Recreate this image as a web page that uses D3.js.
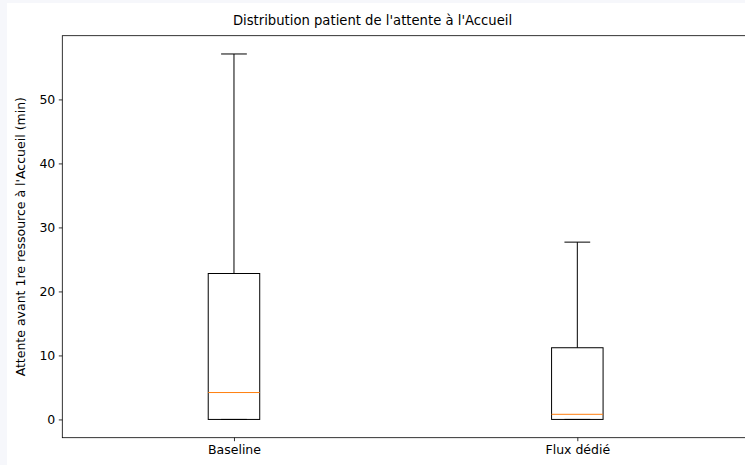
<!DOCTYPE html>
<html><head><meta charset="utf-8">
<script src="https://cdn.jsdelivr.net/npm/d3@7"></script>
<style>
html,body{margin:0;padding:0;background:#f6f7fb;overflow:hidden;}
svg{position:absolute;left:7px;top:3px;background:#fff;}
text{font-family:"DejaVu Sans",sans-serif;fill:#000;}
</style></head><body>
<script>
const categories = ["Baseline", "Flux dédié"];
const whiskerLow = [0, 0];
const q1 = [0, 0];
const median = [4.2, 0.8];
const q3 = [22.8, 11.2];
const whiskerHigh = [57.1, 27.7];
const yTicks = [0, 10, 20, 30, 40, 50];
const title = "Distribution patient de l'attente à l'Accueil";
const yLabel = "Attente avant 1re ressource à l'Accueil (min)";

(function () {
const W = 760, H = 470;
const ox = 7, oy = 3;
const pL = 62.3 - ox, pT = 35.7 - oy, pB = 437.7 - oy, pR = 749 - ox;
const tickFont = 12.5, titleFont = 13.2;

const svg = d3.select("body").append("svg").attr("width", W).attr("height", H);

const pos = categories.map((c, i) => i + 1);
const x = d3.scaleLinear().domain([0.5, 2.5]).range([pL, pR]);
const yMin = d3.min(whiskerLow), yMax = d3.max(whiskerHigh);
const m = (yMax - yMin) * 0.05;
const y = d3.scaleLinear().domain([yMin - m, yMax + m]).range([pB, pT]);

const bw = 0.15;
const g = svg.append("g");
categories.forEach((c, i) => {
  const p = pos[i];
  g.append("line").attr("x1", x(p)).attr("x2", x(p)).attr("y1", y(q3[i])).attr("y2", y(whiskerHigh[i])).attr("stroke", "#000").attr("stroke-width", 1);
  g.append("line").attr("x1", x(p)).attr("x2", x(p)).attr("y1", y(q1[i])).attr("y2", y(whiskerLow[i])).attr("stroke", "#000").attr("stroke-width", 1);
  [whiskerHigh[i], whiskerLow[i]].forEach(v => {
    g.append("line").attr("x1", x(p - bw / 4)).attr("x2", x(p + bw / 4)).attr("y1", y(v)).attr("y2", y(v)).attr("stroke", "#000").attr("stroke-width", 1);
  });
  g.append("rect").attr("x", x(p - bw / 2)).attr("width", x(p + bw / 2) - x(p - bw / 2))
    .attr("y", y(q3[i])).attr("height", y(q1[i]) - y(q3[i]))
    .attr("fill", "none").attr("stroke", "#000").attr("stroke-width", 1);
  g.append("line").attr("x1", x(p - bw / 2)).attr("x2", x(p + bw / 2)).attr("y1", y(median[i])).attr("y2", y(median[i])).attr("stroke", "#ff7f0e").attr("stroke-width", 1);
});

const yAxis = d3.axisLeft(y).tickValues(yTicks).tickSize(3.5).tickPadding(3.5).tickFormat(d3.format("d"));
const ya = svg.append("g").attr("transform", `translate(${pL},0)`).call(yAxis);
const xAxis = d3.axisBottom(x).tickValues(pos).tickSize(3.5).tickPadding(3.5).tickFormat((d, i) => categories[i]);
const xa = svg.append("g").attr("transform", `translate(0,${pB})`).call(xAxis);
[ya, xa].forEach(a => {
  a.select(".domain").remove();
  a.selectAll(".tick line").attr("stroke", "#000").attr("stroke-width", 0.8);
  a.selectAll(".tick text").attr("font-family", "DejaVu Sans").attr("font-size", tickFont).attr("fill", "#222");
});

svg.append("rect").attr("x", pL).attr("y", pT).attr("width", pR - pL).attr("height", pB - pT)
  .attr("fill", "none").attr("stroke", "#000").attr("stroke-width", 0.8);

svg.append("text").attr("x", 372.5 - ox).attr("y", pT - 11)
  .attr("text-anchor", "middle").attr("font-size", titleFont).attr("fill", "#222").text(title);

svg.append("text").attr("transform", `translate(${21 - ox},${(pT + pB) / 2}) rotate(-90)`)
  .attr("text-anchor", "middle").attr("dy", "0.35em").attr("font-size", tickFont).attr("fill", "#222").text(yLabel);
})();
</script>
</body></html>
